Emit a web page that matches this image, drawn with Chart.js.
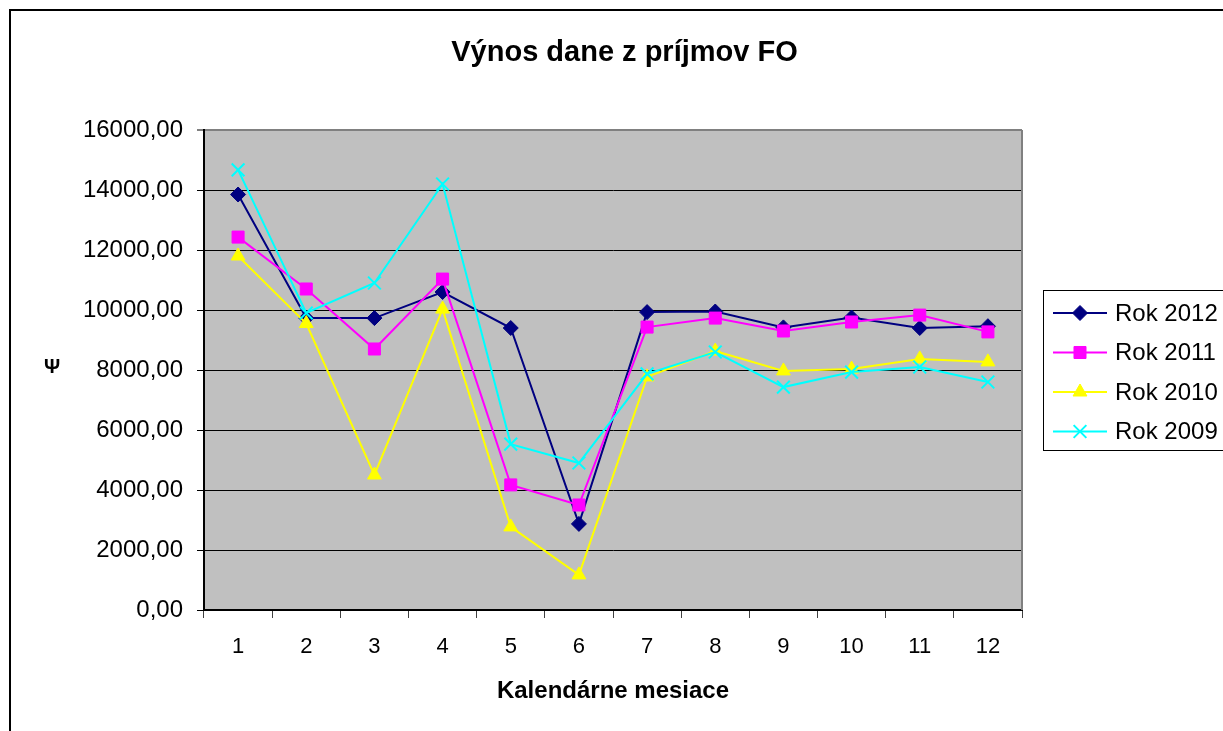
<!DOCTYPE html>
<html>
<head>
<meta charset="utf-8">
<script src="https://cdn.jsdelivr.net/npm/chart.js@4.4.1/dist/chart.umd.min.js"></script>
<style>
    body { margin: 0; background: #fff; }
    #wrap { width: 1223px; height: 731px; }
</style>
</head>
<body>
<div id="wrap"><canvas id="vynos"></canvas></div>
<script>
const months = ['1', '2', '3', '4', '5', '6', '7', '8', '9', '10', '11', '12'];
const rok2012 = [13850, 9730, 9730, 10600, 9400, 2870, 9930, 9950, 9420, 9750, 9400, 9460];
const rok2011 = [12430, 10700, 8700, 11030, 4170, 3500, 9430, 9730, 9300, 9600, 9830, 9270];
const rok2010 = [11800, 9550, 4500, 10030, 2770, 1170, 7770, 8630, 7970, 8030, 8370, 8270];
const rok2009 = [14670, 9900, 10900, 14200, 5530, 4900, 7870, 8600, 7430, 7930, 8100, 7600];
const seriesNames = ['Rok 2012', 'Rok 2011', 'Rok 2010', 'Rok 2009'];

const font = "'Liberation Sans', Arial, sans-serif";

// empty box on the right so the title stays centred on the whole page
const legendSpace = {
    id: 'legendSpace',
    beforeInit(chart) {
        Chart.layouts.addBox(chart, {
            position: 'right',
            weight: 0,
            fullSize: false,
            options: { stack: undefined, stackWeight: 1 },
            left: 0, top: 0, right: 0, bottom: 0, width: 0, height: 0,
            update(maxWidth, maxHeight) {
                this.width = 201;
                this.height = maxHeight;
            },
            isHorizontal() { return false; },
            draw() {}
        });
    }
};

// gray plot area, white page, frame, Psi title and boxed legend
const excelLook = {
    id: 'excelLook',
    beforeDraw(chart) {
        const { ctx, chartArea: a } = chart;
        ctx.save();
        ctx.fillStyle = '#fff';
        ctx.fillRect(0, 0, chart.width, chart.height);
        ctx.fillStyle = '#c0c0c0';
        ctx.fillRect(a.left, a.top, a.right - a.left, a.bottom - a.top);
        ctx.restore();
    },
    afterDraw(chart) {
        const { ctx, chartArea: a } = chart;
        ctx.save();
        // right edge of plot
        ctx.strokeStyle = '#808080';
        ctx.lineWidth = 2;
        ctx.beginPath();
        ctx.moveTo(a.right, a.top);
        ctx.lineTo(a.right, a.bottom);
        ctx.stroke();

        // outer frame
        ctx.strokeStyle = '#000';
        ctx.lineWidth = 2;
        ctx.strokeRect(10, 10, 1240, 760);

        // y axis title
        ctx.fillStyle = '#000';
        ctx.font = 'bold 20px ' + font;
        ctx.textAlign = 'center';
        ctx.textBaseline = 'middle';
        ctx.fillText('Ψ', 52, 367);

        // legend
        ctx.strokeStyle = '#000';
        ctx.lineWidth = 1;
        ctx.strokeRect(1043.5, 290.5, 200, 160);
        ctx.font = '24px ' + font;
        ctx.textAlign = 'left';
        chart.data.datasets.forEach((ds, i) => {
            const y = 313 + i * 39.5;
            ctx.strokeStyle = ds.borderColor;
            ctx.lineWidth = 2;
            ctx.beginPath();
            ctx.moveTo(1053, y);
            ctx.lineTo(1107, y);
            ctx.stroke();
            ctx.fillStyle = ds.pointBackgroundColor;
            ctx.strokeStyle = ds.pointBorderColor;
            ctx.lineWidth = ds.pointBorderWidth;
            Chart.helpers.drawPoint(ctx, {
                pointStyle: ds.pointStyle,
                radius: ds.pointRadius,
                borderWidth: ds.pointBorderWidth,
                rotation: 0
            }, 1080, y);
            ctx.fillStyle = '#000';
            ctx.fillText(ds.label, 1115, y + 1);
        });
        ctx.restore();
    }
};

function series(label, data, color, style, radius, bw, order) {
    return {
        label: label,
        data: data,
        borderColor: color,
        backgroundColor: color,
        pointBackgroundColor: color,
        pointBorderColor: color,
        pointStyle: style,
        pointRadius: radius,
        pointBorderWidth: bw,
        borderWidth: 2,
        tension: 0,
        order: order
    };
}

const ctx = document.getElementById('vynos');

new Chart(ctx, {
    type: 'line',
    data: {
        labels: months,
        datasets: [
            series(seriesNames[0], rok2012, '#000080', 'rectRot', 7.5, 1, 4),
            series(seriesNames[1], rok2011, '#ff00ff', 'rect', 8.5, 1, 3),
            series(seriesNames[2], rok2010, '#ffff00', 'triangle', 8, 1, 2),
            series(seriesNames[3], rok2009, '#00ffff', 'crossRot', 9, 2, 1)
        ]
    },
    options: {
        responsive: true,
        maintainAspectRatio: false,
        animation: false,
        layout: {
            padding: { left: 26, right: 0, top: 0, bottom: 0 }
        },
        plugins: {
            legend: { display: false },
            tooltip: { enabled: false },
            title: {
                display: true,
                text: 'Výnos dane z príjmov FO',
                color: '#000',
                font: { family: font, size: 29, weight: 'bold' },
                padding: { top: 36, bottom: 59.2 }
            }
        },
        scales: {
            x: {
                offset: true,
                afterFit(scale) { scale.height = 121; },
                grid: {
                    offset: true,
                    drawOnChartArea: false,
                    drawTicks: true,
                    tickLength: 8,
                    color: '#404040'
                },
                border: { color: '#000', width: 2 },
                ticks: {
                    color: '#000',
                    font: { family: font, size: 22 },
                    padding: 16,
                    maxRotation: 0,
                    autoSkip: false
                },
                title: {
                    display: true,
                    text: 'Kalendárne mesiace',
                    color: '#000',
                    font: { family: font, size: 24, weight: 'bold' },
                    padding: { top: 0, bottom: 25 }
                }
            },
            y: {
                min: 0,
                max: 16000,
                afterFit(scale) { scale.width = 178; },
                grid: {
                    color: (c) => c.tick && c.tick.value === 16000 ? '#808080' : '#000',
                    lineWidth: (c) => c.tick && c.tick.value === 16000 ? 2 : 1,
                    tickLength: 7
                },
                border: { color: '#000', width: 2 },
                ticks: {
                    stepSize: 2000,
                    color: '#000',
                    padding: 14,
                    font: { family: font, size: 24 },
                    callback: (v) => v.toFixed(2).replace('.', ',')
                }
            }
        }
    },
    plugins: [legendSpace, excelLook]
});
</script>
</body>
</html>
